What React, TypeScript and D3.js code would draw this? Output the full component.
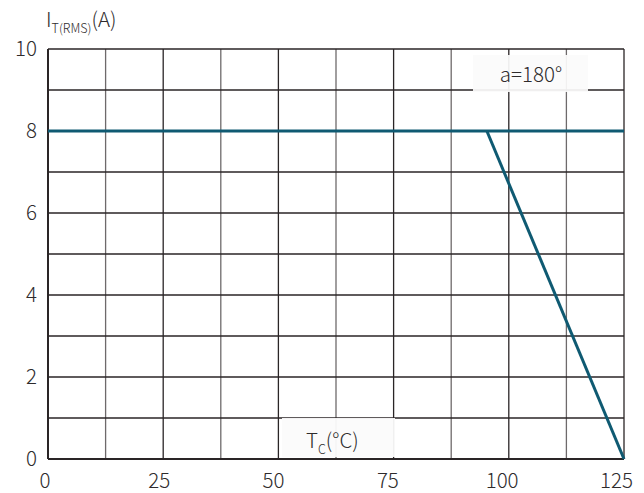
import React from "react";
import * as d3 from "d3";

// Derating curve: on-state RMS current vs. case temperature
const tcFlat: number[] = [0, 126];
const itFlat: number[] = [8, 8];
const tcDerate: number[] = [96, 126];
const itDerate: number[] = [8, 0];

const xTickValues: number[] = [0, 25, 50, 75, 100, 125];
const yTickValues: number[] = [0, 2, 4, 6, 8, 10];
const conductionLabel = "a=180°";

const W = 644;
const H = 493;
const FONT = "'Noto Sans CJK SC', 'Noto Sans', sans-serif";

export default function App() {
  const x = d3.scaleLinear().domain([0, 126]).range([48, 624]);
  const y = d3.scaleLinear().domain([0, 10]).range([459, 49]);

  const vGrid = d3.range(0, 11).map((i) => (i * 126) / 10);
  const hGrid = d3.range(0, 11);

  const line = d3
    .line<[number, number]>()
    .x((d) => x(d[0]))
    .y((d) => y(d[1]));

  const flat = tcFlat.map((t, i) => [t, itFlat[i]] as [number, number]);
  const derate = tcDerate.map((t, i) => [t, itDerate[i]] as [number, number]);

  const lineColor = "#0f5a72";
  const gridColor = "#2a2526";
  const textColor = "#2e2b2c";

  return (
    <svg
      width={W}
      height={H}
      style={{ position: "absolute", left: 0, top: 0, background: "#fff" }}
      fontFamily={FONT}
      fontWeight={300}
    >
      {/* grid */}
      {vGrid.map((v, i) => (
        <line
          key={"v" + i}
          x1={x(v)}
          x2={x(v)}
          y1={y(10)}
          y2={y(0)}
          stroke={i % 2 === 1 ? "#6e6a6b" : gridColor}
          strokeWidth={i === 0 ? 2 : 1.3}
        />
      ))}
      {hGrid.map((v) => (
        <line
          key={"h" + v}
          x1={x(0)}
          x2={x(126)}
          y1={y(v)}
          y2={y(v)}
          stroke={gridColor}
          strokeWidth={v === 0 ? 2 : 1.4}
        />
      ))}

      {/* annotation boxes */}
      <rect x={473} y={55} width={115} height={37} fill="#fbfbfb" opacity={0.93} />
      <text x={531} y={82} textAnchor="middle" fontSize={20.5} fill={textColor}>
        {conductionLabel}
      </text>

      <rect x={282} y={418} width={113} height={39} fill="#fbfbfb" opacity={0.95} />
      <text x={306} y={448} fontSize={20.5} fill={textColor}>
        T
        <tspan fontSize={12.5} dy={6}>C</tspan>
        <tspan dy={-6}>(°C)</tspan>
      </text>

      {/* curves */}
      <path d={line(flat) ?? ""} fill="none" stroke={lineColor} strokeWidth={3} />
      <path d={line(derate) ?? ""} fill="none" stroke={lineColor} strokeWidth={3} />

      {/* y tick labels */}
      {yTickValues.map((v) => (
        <text
          key={"yl" + v}
          x={37}
          y={y(v)}
          dy="0.35em"
          textAnchor="end"
          fontSize={20.5}
          fill={textColor}
        >
          {v}
        </text>
      ))}

      {/* x tick labels */}
      {xTickValues.map((v) => (
        <text
          key={"xl" + v}
          x={x(v) - 3}
          y={488}
          textAnchor="middle"
          fontSize={20.5}
          fill={textColor}
        >
          {v}
        </text>
      ))}

      {/* y axis title */}
      <text x={46} y={27} fontSize={20.5} fill={textColor}>
        I
        <tspan fontSize={12.5} dy={6}>T(RMS)</tspan>
        <tspan dy={-6}>(A)</tspan>
      </text>
    </svg>
  );
}
